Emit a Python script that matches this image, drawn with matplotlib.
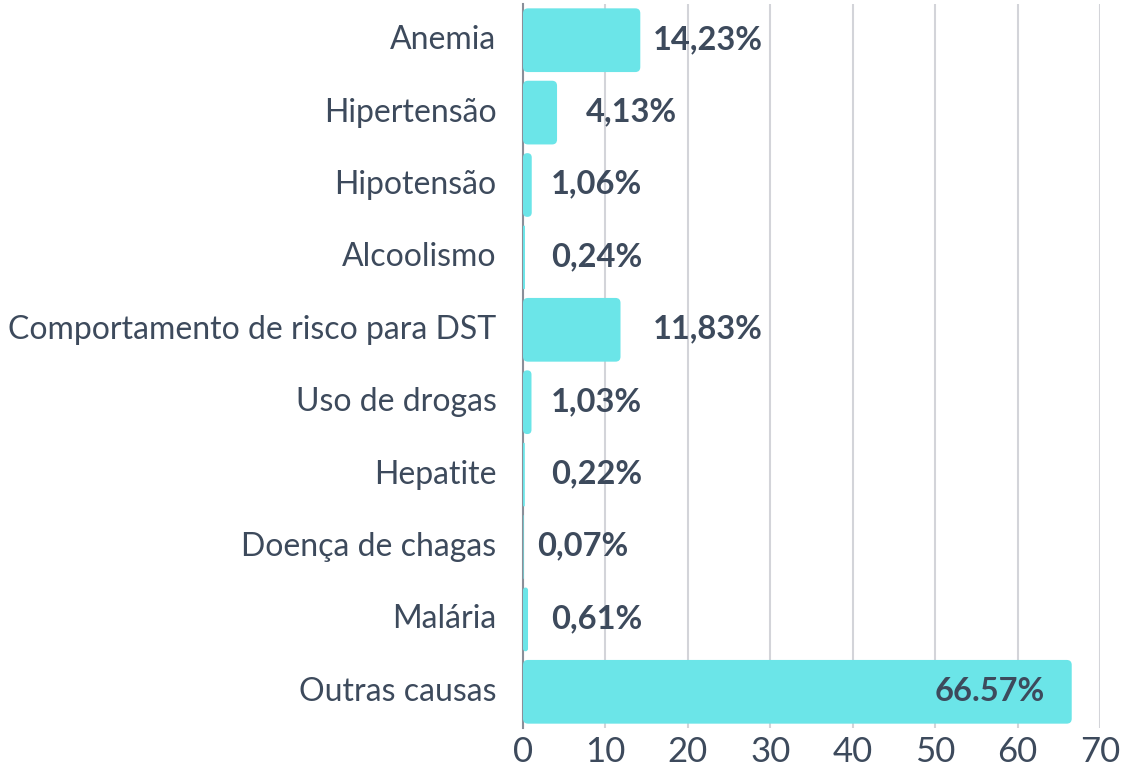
import matplotlib
matplotlib.use("Agg")
import matplotlib.pyplot as plt
from matplotlib.patches import FancyBboxPatch

categories = ["Anemia", "Hipertensão", "Hipotensão", "Alcoolismo",
              "Comportamento de risco para DST", "Uso de drogas", "Hepatite",
              "Doença de chagas", "Malária", "Outras causas"]
values = [14.23, 4.13, 1.06, 0.24, 11.83, 1.03, 0.22, 0.07, 0.61, 66.57]
value_labels = ["14,23%", "4,13%", "1,06%", "0,24%", "11,83%", "1,03%",
                "0,22%", "0,07%", "0,61%", "66.57%"]
label_x = [22.4, 13.2, 8.9, 8.9, 22.4, 8.9, 8.9, 7.3, 8.9, 63.3]
label_ha = ["center"] * 9 + ["right"]
xticks = [0, 10, 20, 30, 40, 50, 60, 70]

plt.rcParams['font.family'] = ['Lato', 'DejaVu Sans']
text_color = "#3D4A5C"
bar_color = "#6BE5E8"

fig = plt.figure(figsize=(11.24, 7.68), dpi=100)
ax = fig.add_axes([523/1124, 1 - 728/768, (1100-523)/1124, (728-4)/768])

n = len(categories)
ys = list(range(n))
bh = 0.88
ax.set_xlim(0, 70)
ax.set_ylim(n - 0.5, -0.5)

# pixel scale for rounding
px_x = (1100 - 523) / 70.0
px_y = (728 - 4) / n
r_px = 5
for y, v in zip(ys, values):
    rx = min(r_px / px_x, v / 2)
    aspect = (r_px / px_y) / (r_px / px_x)
    p = FancyBboxPatch((0, y - bh / 2), v, bh,
                       boxstyle=f"round,pad=0,rounding_size={rx}",
                       mutation_aspect=aspect,
                       facecolor=bar_color, edgecolor="none", zorder=3)
    ax.add_patch(p)

for y, lx, lab, ha in zip(ys, label_x, value_labels, label_ha):
    ax.text(lx, y - 0.01, lab, ha=ha, va="center", fontsize=23.5, fontweight="bold",
            color=text_color, zorder=4)

ax.set_yticks(ys)
ax.set_yticklabels(categories, fontsize=23, color=text_color, va="center")
for t in ax.get_yticklabels():
    t.set_y(t.get_position()[1])
ax.set_xticks(xticks)
ax.set_xticklabels([str(t) for t in xticks], fontsize=25, color=text_color)
ax.tick_params(axis="both", length=0)
ax.tick_params(axis="y", pad=19)
ax.tick_params(axis="x", pad=6)
ax.xaxis.grid(True, color="#D3D4D9", linewidth=1.5, zorder=0)
ax.set_axisbelow(True)
for s in ["top", "right", "bottom"]:
    ax.spines[s].set_visible(False)
ax.spines["left"].set_color("#8A8F99")
ax.spines["left"].set_linewidth(1.5)
ax.spines["left"].set_zorder(2)

fig.savefig("out.png", dpi=100)
